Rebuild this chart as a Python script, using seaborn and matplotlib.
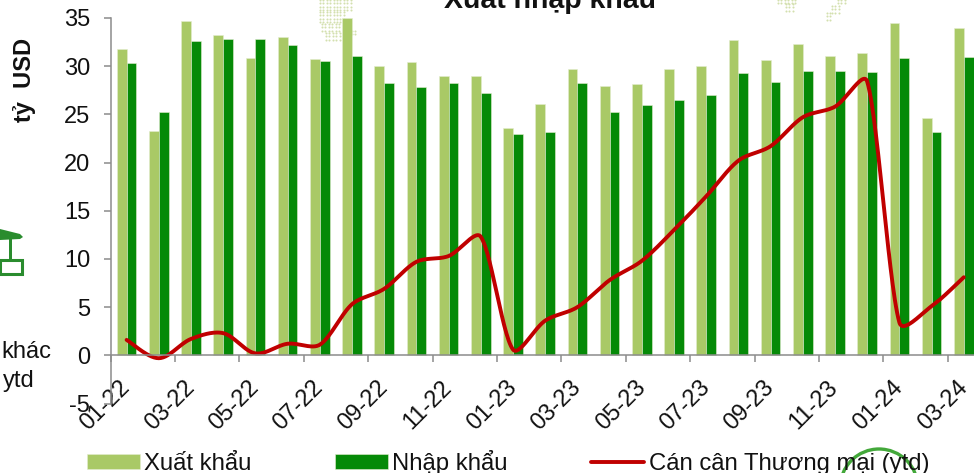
import numpy as np
import pandas as pd
import matplotlib
matplotlib.use("Agg")
import matplotlib.pyplot as plt
from matplotlib.patches import Polygon, Rectangle, Arc
from matplotlib.transforms import ScaledTranslation
import seaborn as sns

months = ["01-22", "02-22", "03-22", "04-22", "05-22", "06-22", "07-22", "08-22", "09-22",
          "10-22", "11-22", "12-22", "01-23", "02-23", "03-23", "04-23", "05-23", "06-23",
          "07-23", "08-23", "09-23", "10-23", "11-23", "12-23", "01-24", "02-24", "03-24"]
exports = [31.8, 23.3, 34.7, 33.2, 30.8, 33.05, 30.7, 35.0, 30.0,
           30.45, 29.0, 29.0, 23.55, 26.05, 29.7, 27.9, 28.1, 29.7,
           30.0, 32.7, 30.6, 32.3, 31.1, 31.4, 34.5, 24.6, 34.0]
imports = [30.3, 25.2, 32.6, 32.8, 32.8, 32.15, 30.5, 31.1, 28.3,
           27.8, 28.3, 27.2, 22.95, 23.2, 28.3, 25.2, 26.0, 26.5,
           27.0, 29.3, 28.4, 29.5, 29.5, 29.35, 30.85, 23.2, 31.0]
balance = [1.6, -0.3, 1.7, 2.3, 0.2, 1.2, 1.1, 5.3, 6.9,
           9.7, 10.3, 12.3, 0.6, 3.6, 5.0, 7.8, 9.8, 13.0,
           16.5, 20.2, 21.7, 24.7, 25.8, 28.4, 3.4, 5.1, 8.1]
series_names = ["Xuất khẩu", "Nhập khẩu", "Cán cân Thương mại (ytd)"]
yticks = [-5, 0, 5, 10, 15, 20, 25, 30, 35]

W, H = 974, 473
LIGHT, DARK, RED, AXIS = "#A9C966", "#058A07", "#C00000", "#8C8C8C"
FS = 17

sns.set_style("white")
plt.rcParams["font.family"] = ["Liberation Sans", "DejaVu Sans"]

fig = plt.figure(figsize=(W / 100, H / 100), dpi=100, facecolor="white")

# Slide artwork sitting behind the chart, positioned in figure pixels
bg = fig.add_axes([0, 0, 1, 1], zorder=0)
bg.set_xlim(0, W)
bg.set_ylim(H, 0)
bg.axis("off")
for x0, x1, y0, y1 in [(320, 352, 0, 12), (320, 346, 12, 24), (322, 342, 24, 33),
                       (326, 340, 33, 42), (345, 358, 31, 35),
                       (778, 796, 0, 4), (786, 794, 4, 11),
                       (838, 848, 0, 6), (832, 840, 6, 13), (827, 833, 13, 20)]:
    gx, gy = np.meshgrid(np.arange(x0, x1, 3.4), np.arange(y0, y1, 3.4))
    bg.scatter(gx.ravel(), gy.ravel(), s=2.2, color="#D3E0AE", linewidths=0)
bg.add_patch(Polygon([(0, 229), (20, 234), (23, 237), (20, 239), (0, 240)], color="#2A8C2E", lw=0))
bg.add_patch(Rectangle((8.5, 239), 3.5, 20, color="#2A8C2E", lw=0))
bg.add_patch(Rectangle((0, 259.5), 22, 14, fill=False, edgecolor="#2A8C2E", lw=2.2))
bg.add_patch(Arc((879, 488), 78, 78, theta1=180, theta2=360, color="#43A83A", lw=2.4))
bg.text(51, 358, "khác", ha="right", va="baseline", fontsize=FS, color="#111111")
bg.text(19, 387, "ytd", ha="center", va="baseline", fontsize=FS, color="#111111")

left, right, top, bottom = 110.5, W, 18, 403.5
ax = fig.add_axes([left / W, 1 - bottom / H, (right - left) / W, (bottom - top) / H], zorder=1)
ax.patch.set_alpha(0)

frame = pd.DataFrame({
    "month": months * 2,
    "value": exports + imports,
    "series": [series_names[0]] * len(months) + [series_names[1]] * len(months),
})
sns.barplot(data=frame, x="month", y="value", hue="series", order=months,
            hue_order=series_names[:2], palette=[LIGHT, DARK], width=0.61, gap=0,
            dodge=True, edgecolor="#E4EDD0", linewidth=0.4, saturation=1, errorbar=None, ax=ax)

cat_px = 32.2
unit_px = (bottom - top) / 40


def smooth(values, per_segment=30):
    """Bezier smoothing: Catmull-Rom handles, shortened on the side of the shorter chord."""
    p = np.column_stack([np.arange(len(values)) * cat_px, np.asarray(values, dtype=float) * unit_px])
    seg = np.linalg.norm(np.diff(p, axis=0), axis=1)
    tang = np.zeros_like(p)
    tang[1:-1] = p[2:] - p[:-2]
    tang[0] = p[1] - p[0]
    tang[-1] = p[-1] - p[-2]
    pieces = []
    t = np.linspace(0, 1, per_segment)[:, None]
    for i in range(len(p) - 1):
        out_scale = 1.0 if i == 0 else min(1.0, seg[i] / seg[i - 1]) ** 0.6
        in_scale = 1.0 if i == len(p) - 2 else min(1.0, seg[i] / seg[i + 1]) ** 0.6
        c1 = p[i] + tang[i] * out_scale / 6
        c2 = p[i + 1] - tang[i + 1] * in_scale / 6
        pieces.append((1 - t) ** 3 * p[i] + 3 * (1 - t) ** 2 * t * c1
                      + 3 * (1 - t) * t ** 2 * c2 + t ** 3 * p[i + 1])
    curve = np.vstack(pieces)
    return curve[:, 0] / cat_px, curve[:, 1] / unit_px


cx, cy = smooth(balance)
sns.lineplot(x=cx, y=cy, color=RED, lw=2.8, label=series_names[2], estimator=None,
             sort=False, ax=ax, solid_capstyle="round")

ax.set_xlim(-0.5, -0.5 + (right - left) / cat_px)
ax.set_ylim(-5, 35)
ax.set_xlabel("")
ax.set_ylabel("")

# Moving a spine resets its axis ticks, so this comes before the tick setup
for s in ("top", "right"):
    ax.spines[s].set_visible(False)
ax.spines["bottom"].set_position(("data", 0))
for s in ("left", "bottom"):
    ax.spines[s].set_color(AXIS)
    ax.spines[s].set_linewidth(1.1)

ax.set_yticks(yticks)
ax.set_yticklabels([str(v) for v in yticks], fontsize=FS, color="#111111")
xt = np.arange(0, len(months), 2) - 0.5
ax.set_xticks(xt)
ax.set_xticklabels(months[::2], rotation=45, ha="center", fontsize=FS, color="#111111")
ax.tick_params(axis="x", length=4.7, width=1.1, color=AXIS, pad=10.5, bottom=True)
ax.tick_params(axis="y", length=4.7, width=1.1, color=AXIS, pad=10, left=True)
shift = ScaledTranslation(-5 / 100, 0, fig.dpi_scale_trans)
for lab in ax.get_xticklabels():
    lab.set_transform(lab.get_transform() + shift)

handles, labels = ax.get_legend_handles_labels()
fig.legend(handles, labels, ncol=3, frameon=False, fontsize=17.2,
           loc="lower left", bbox_to_anchor=(87 / W, 1 - 475 / H), bbox_transform=fig.transFigure,
           borderaxespad=0, borderpad=0, handlelength=2.2, handleheight=0.6,
           handletextpad=0.2, columnspacing=3.49, labelcolor="#111111")
ax.get_legend().remove()

fig.text(550 / W, 1 - 8 / H, "Xuất nhập khẩu", ha="center", va="baseline",
         fontsize=20.5, fontweight="bold", color="#111111")
fig.text(24 / W, 1 - 80 / H, "tỷ  USD", rotation=90, ha="center", va="center",
         fontsize=FS, fontweight="bold", color="#111111")

fig.savefig("out.png", dpi=100)
